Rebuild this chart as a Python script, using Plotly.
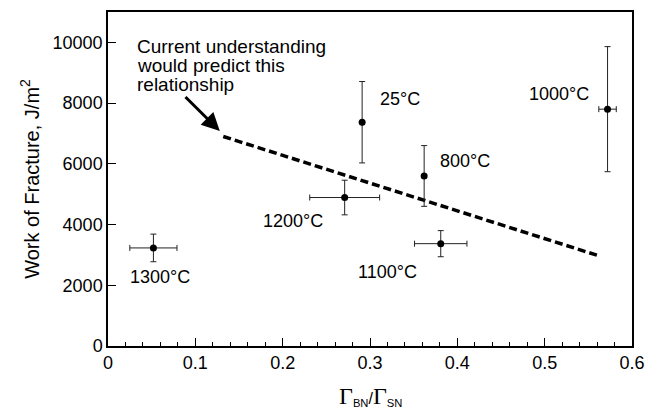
import plotly.graph_objects as go

# Data
temps = ["25°C", "800°C", "1000°C", "1100°C", "1200°C", "1300°C"]
ratio = [0.291, 0.362, 0.572, 0.381, 0.271, 0.052]
wof = [7370, 5600, 7800, 3370, 4890, 3230]
wof_err = [1340, 1000, 2060, 430, 570, 455]
ratio_err = [0.0, 0.0, 0.01, 0.03, 0.04, 0.027]

# label anchor positions (data coordinates, left-anchored)
label_x = [0.309, 0.378, 0.48, 0.284, 0.175, 0.023]
label_y = [8150, 6100, 8300, 2430, 4130, 2270]

# predicted relationship (dashed line)
pred_x = [0.132, 0.561]
pred_y = [6900, 2980]

# annotation text and arrow
note_lines = ["Current understanding", "would predict this", "relationship"]
note_x = 0.031
note_y = [9850, 9230, 8600]
arrow_tip = (0.128, 7080)
arrow_tail = (0.087, 8250)

FONT = "Liberation Sans, Arial, sans-serif"

fig = go.Figure()
fig.add_trace(go.Scatter(
    x=pred_x, y=pred_y, mode="lines",
    line=dict(color="black", width=3.5, dash="8px,4px"),
    showlegend=False, hoverinfo="skip"))
fig.add_trace(go.Scatter(
    x=ratio, y=wof, mode="markers",
    marker=dict(color="black", size=7),
    error_y=dict(type="data", array=wof_err, visible=True, color="#222", thickness=1, width=3),
    error_x=dict(type="data", array=ratio_err, visible=True, color="#222", thickness=1, width=3),
    showlegend=False))

annotations = []
for t, x, y in zip(temps, label_x, label_y):
    annotations.append(dict(x=x, y=y, xref="x", yref="y", text=t, showarrow=False,
                            xanchor="left", yanchor="middle",
                            font=dict(family=FONT, size=18, color="black")))
for line, y in zip(note_lines, note_y):
    annotations.append(dict(x=note_x, y=y, xref="x", yref="y", text=line, showarrow=False,
                            xanchor="left", yanchor="middle",
                            font=dict(family=FONT, size=19, color="black")))
annotations.append(dict(x=arrow_tip[0], y=arrow_tip[1], xref="x", yref="y",
                        ax=arrow_tail[0], ay=arrow_tail[1], axref="x", ayref="y",
                        text="", showarrow=True, arrowhead=2, arrowsize=1.2,
                        arrowwidth=3, arrowcolor="black", standoff=0))
# x-axis title
annotations.append(dict(
    x=0.5, y=-0.15, xref="paper", yref="paper", yanchor="middle", showarrow=False,
    text='<span style="font-family:Liberation Serif;font-size:24px">Γ</span>'
         '<sub>BN</sub>/'
         '<span style="font-family:Liberation Serif;font-size:24px">Γ</span>'
         '<sub>SN</sub>',
    font=dict(family=FONT, size=16, color="black")))

fig.update_layout(
    width=660, height=419,
    margin=dict(l=108, r=28, t=10, b=73),
    paper_bgcolor="white", plot_bgcolor="white",
    font=dict(family=FONT, size=18, color="black"),
    annotations=annotations,
    xaxis=dict(range=[0, 0.6], dtick=0.1, tick0=0, ticks="inside", ticklen=8,
               tickwidth=1, tickcolor="black", showline=True, linecolor="black",
               linewidth=1.5, mirror=True, showgrid=False, zeroline=False,
               tickfont=dict(size=18),
               minor=dict(dtick=0.02, ticks="inside", ticklen=4, tickcolor="black", showgrid=False)),
    yaxis=dict(range=[0, 11000], dtick=2000, tick0=0, ticks="inside", ticklen=8,
               tickwidth=1, tickcolor="black", showline=True, linecolor="black",
               linewidth=1.5, mirror=True, showgrid=False, zeroline=False,
               tickformat="d", tickfont=dict(size=18),
               title=dict(text="Work of Fracture, J/m<sup>2</sup>", font=dict(size=20), standoff=8)),
)

fig.write_html("out.html")
